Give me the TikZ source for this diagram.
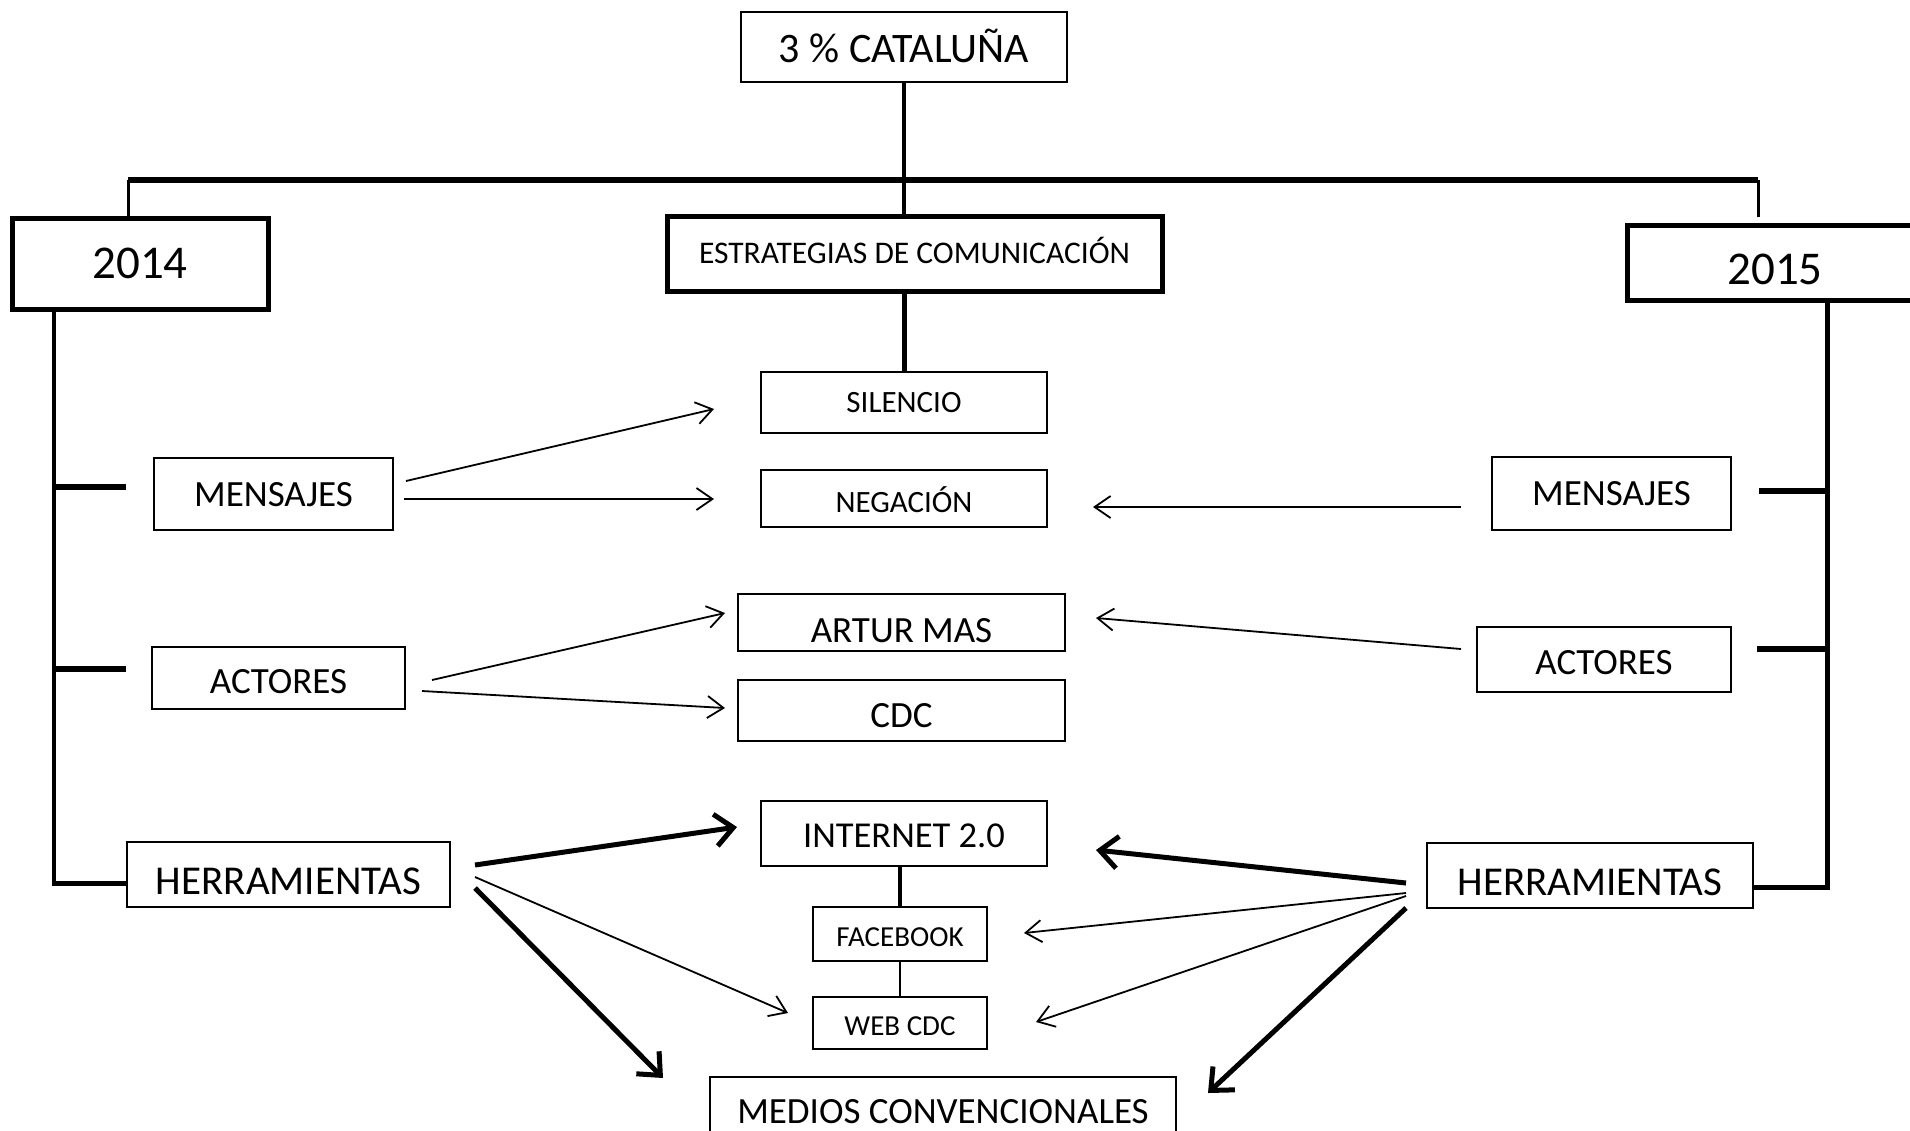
\documentclass[tikz,border=0pt]{standalone}
\usepackage{fontspec}
\setmainfont{Carlito}
\usetikzlibrary{arrows.meta}
\newcommand\txtdown[2]{\raisebox{-#1pt}{#2}}
\begin{document}
\begin{tikzpicture}[x=1pt,y=-1pt,
  box/.style={draw, line width=1.6pt, inner sep=0pt, outer sep=0pt, align=center, text depth=0pt},
  thickbox/.style={box, line width=5pt},
  fs/.style={font=\fontsize{#1pt}{#1pt}\selectfont},
  thinarr/.style={line width=1.8pt, -{Straight Barb[length=16pt,width=22pt]}},
  thickarr/.style={line width=5pt, -{Straight Barb[length=18pt,width=32pt]}},
  tree/.style={line width=#1},
]
\useasboundingbox (0,0) rectangle (1910,1130);
\clip (0,0) rectangle (1910,1130);
\fill[white] (0,0) rectangle (1910,1130);

% nodes
\node[box, line width=2pt, fs=42, minimum width=326pt, minimum height=70pt] (top) at (904,47) {\txtdown{2}{3 \% CATALU\smash{Ñ}A}};
\node[thickbox, fs=47, minimum width=256pt, minimum height=91pt] (y2014) at (140,263.5) {2014};
\node[thickbox, fs=31.5, minimum width=495pt, minimum height=75pt] (estr) at (914.5,253.5) {ESTRATEGIAS DE COMUNICACI\smash{Ó}N};
\node[thickbox, fs=47, minimum width=296pt, minimum height=75pt] (y2015) at (1775,262.5) {\txtdown{14}{2015}};
\node[box, fs=37, minimum width=239pt, minimum height=72pt] (lmens) at (273.5,494) {MENSAJES};
\node[box, fs=37, minimum width=253pt, minimum height=62pt] (lact) at (278.5,678) {\txtdown{7}{ACTORES}};
\node[box, fs=41, minimum width=323pt, minimum height=65pt] (lherr) at (288.5,874.5) {\txtdown{14}{HERRAMIENTAS}};
\node[box, fs=31, minimum width=286pt, minimum height=61pt] (sil) at (904,402.5) {SILENCIO};
\node[box, fs=31, minimum width=286pt, minimum height=57pt] (neg) at (904,498.5) {\txtdown{7}{NEGACI\smash{Ó}N}};
\node[box, fs=37, minimum width=327pt, minimum height=57pt] (artur) at (901.5,622.5) {\txtdown{15}{ARTUR MAS}};
\node[box, fs=37, minimum width=327pt, minimum height=61pt] (cdc) at (901.5,710.5) {\txtdown{9}{CDC}};
\node[box, fs=36.5, minimum width=286pt, minimum height=65pt] (inet) at (904,833.5) {\txtdown{5}{INTERNET 2.0}};
\node[box, fs=29, minimum width=174pt, minimum height=54pt] (fb) at (900,934) {\txtdown{7}{FACEBOOK}};
\node[box, fs=29, minimum width=174pt, minimum height=52pt] (web) at (900,1023) {\txtdown{7}{WEB CDC}};
\node[box, fs=37, minimum width=466pt, minimum height=58pt] (medios) at (943,1106) {\txtdown{10}{MEDIOS CONVENCIONALES}};
\node[box, fs=37, minimum width=239pt, minimum height=73pt] (rmens) at (1611.5,493.5) {MENSAJES};
\node[box, fs=37, minimum width=254pt, minimum height=65pt] (ract) at (1604,659.5) {\txtdown{5}{ACTORES}};
\node[box, fs=41, minimum width=326pt, minimum height=65pt] (rherr) at (1590,875.5) {\txtdown{14}{HERRAMIENTAS}};

% tree lines
\coordinate (barL) at (128,180);
\coordinate (barR) at (1758,180);
\coordinate (barRend) at (1758,217);
\draw[tree=3.5pt] (top.south) -- (top.south |- estr.north);
\draw[tree=6pt] (barL) -- (barR);
\draw[tree=3pt] (barL) -- (barL |- y2014.north);
\draw[tree=3pt] (barR) -- (barRend);
\draw[tree=5pt] (sil.north) -- (sil.north |- estr.south);
\draw[tree=4pt] (fb.north) -- (fb.north |- inet.south);
\draw[tree=2pt] (fb.south) -- (web.north);

% left spine
\draw[tree=4.5pt] ([shift={(42,0)}]y2014.south west) |- ([shift={(0,9)}]lherr.west);
\draw[tree=6pt] ([shift={(-100,-7)}]lmens.west) -- ([shift={(-28,-7)}]lmens.west);
\draw[tree=6pt] ([shift={(-98,-9)}]lact.west) -- ([shift={(-26,-9)}]lact.west);
% right spine
\draw[tree=5pt] ([shift={(52,0)}]y2015.south) |- ([shift={(0,11.5)}]rherr.east);
\draw[tree=6pt] ([shift={(28,-2.5)}]rmens.east) -- ([shift={(96,-2.5)}]rmens.east);
\draw[tree=6pt] ([shift={(26,-10.5)}]ract.east) -- ([shift={(96,-10.5)}]ract.east);

% thin arrows
\draw[thinarr] ([shift={(13,-13)}]lmens.east) -- ([shift={(-47,6.5)}]sil.west);
\draw[thinarr] ([shift={(11,5)}]lmens.east) -- ([shift={(-47,0.5)}]neg.west);
\draw[thinarr] ([shift={(-31,13.5)}]rmens.west) -- ([shift={(46,8.5)}]neg.east);
\draw[thinarr] ([shift={(27,2)}]lact.east) -- ([shift={(-13,-9.5)}]artur.west);
\draw[thinarr] ([shift={(17,13)}]lact.east) -- ([shift={(-13,-2.5)}]cdc.west);
\draw[thinarr] ([shift={(-16,-10.5)}]ract.west) -- ([shift={(31,-4.5)}]artur.east);
\draw[thinarr] ([shift={(25,2.5)}]lherr.east) -- ([shift={(-25,-10)}]web.west);
\draw[thinarr] ([shift={(-21,17.5)}]rherr.west) -- ([shift={(37,-1)}]fb.east);
\draw[thinarr] ([shift={(-21,20.5)}]rherr.west) -- ([shift={(49,-1)}]web.east);

% thick arrows
\draw[thickarr] ([shift={(25,-9.5)}]lherr.east) -- ([shift={(-24,-6.5)}]inet.west);
\draw[thickarr] ([shift={(25,13.5)}]lherr.east) -- ([shift={(-47,1)}]medios.north west);
\draw[thickarr] ([shift={(-21,7.5)}]rherr.west) -- ([shift={(49,16.5)}]inet.east);
\draw[thickarr] ([shift={(-21,32.5)}]rherr.west) -- ([shift={(32,16)}]medios.north east);
\end{tikzpicture}
\end{document}
